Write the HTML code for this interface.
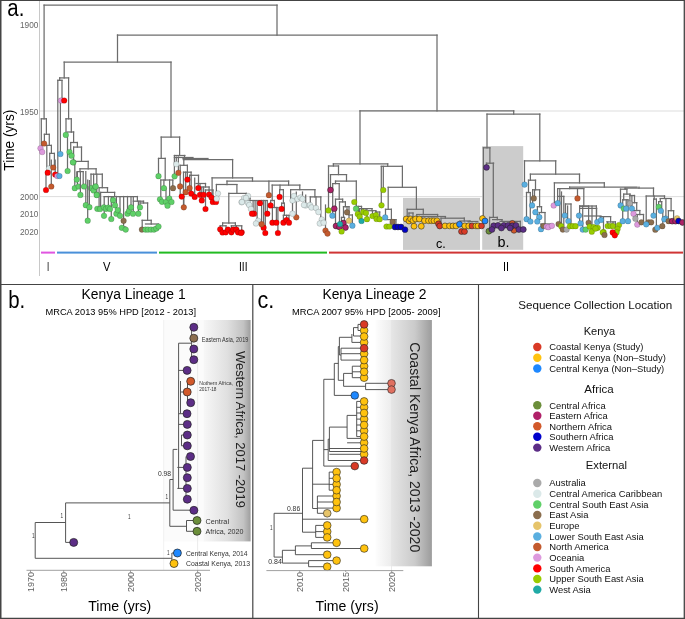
<!DOCTYPE html>
<html><head><meta charset="utf-8"><title>Figure</title>
<style>html,body{margin:0;padding:0;background:#fff;}svg{display:block;font-family:"Liberation Sans", sans-serif;will-change:transform;}</style>
</head><body>
<svg width="685" height="619" viewBox="0 0 685 619">
<rect width="685" height="619" fill="#fff"/>
<defs>
<linearGradient id="gb" x1="203.7" y1="0" x2="250.6" y2="0" gradientUnits="userSpaceOnUse"><stop offset="0" stop-color="#f7f7f7"/><stop offset="0.5" stop-color="#e0e0e0"/><stop offset="0.85" stop-color="#c2c2c2"/><stop offset="1" stop-color="#9e9e9e"/></linearGradient>
<linearGradient id="gc" x1="375.5" y1="0" x2="431.9" y2="0" gradientUnits="userSpaceOnUse"><stop offset="0" stop-color="#fdfdfd"/><stop offset="0.27" stop-color="#ededed"/><stop offset="0.28" stop-color="#e6e6e6"/><stop offset="0.7" stop-color="#cacaca"/><stop offset="1" stop-color="#9c9c9c"/></linearGradient>
</defs>
<line x1="39.5" y1="111" x2="684" y2="111" stroke="#dddddd" stroke-width="1"/>
<line x1="39.5" y1="196.6" x2="684" y2="196.6" stroke="#dddddd" stroke-width="1"/>
<line x1="39.5" y1="1" x2="39.5" y2="276" stroke="#c8c8c8" stroke-width="1"/>
<rect x="403" y="197.9" width="77" height="52" fill="#cccccc"/>
<rect x="482.2" y="146.1" width="41" height="103.7" fill="#cccccc"/>
<g stroke="#6c6c6c" stroke-width="1.25" fill="none" stroke-linecap="square">
<path d="M44.1 5.0V118.8"/>
<path d="M44.1 5.0H277.0"/>
<path d="M277.0 5.0V35.0"/>
<path d="M117.5 35.0H437.0"/>
<path d="M117.5 35.0V62.0"/>
<path d="M64.2 62.0H171.0"/>
<path d="M64.2 62.0V77.9"/>
<path d="M59.7 77.9H68.6"/>
<path d="M59.7 77.9V80.3"/>
<path d="M57.8 80.3H62.0"/>
<path d="M57.8 80.3V176.0"/>
<path d="M62.0 80.3V99.0"/>
<path d="M60.4 99.0H64.2"/>
<path d="M60.4 99.0V154.0"/>
<path d="M68.6 77.9V118.8"/>
<path d="M66.0 118.8H71.3"/>
<path d="M66.0 118.8V135.0"/>
<path d="M67.5 135.0V171.0"/>
<path d="M71.3 118.8V132.0"/>
<path d="M67.2 132.0H73.6"/>
<path d="M73.6 132.0V142.5"/>
<path d="M70.7 142.5H77.4"/>
<path d="M70.7 142.5V155.0"/>
<path d="M77.4 142.5V147.1"/>
<path d="M73.6 147.1H81.5"/>
<path d="M73.6 147.1V162.0"/>
<path d="M81.5 147.1V161.4"/>
<path d="M74.8 161.4H88.2"/>
<path d="M74.8 161.4V188.0"/>
<path d="M88.2 161.4V168.8"/>
<path d="M80.0 168.8H96.1"/>
<path d="M80.0 168.8V171.6"/>
<path d="M77.4 171.6H83.2"/>
<path d="M77.4 171.6V186.0"/>
<path d="M83.2 171.6V186.0"/>
<path d="M85.8 171.6V205.0"/>
<path d="M87.7 180.0V220.0"/>
<path d="M96.1 168.8V174.2"/>
<path d="M91.0 174.2H102.3"/>
<path d="M91.0 174.2V188.0"/>
<path d="M93.6 174.2V190.0"/>
<path d="M96.8 174.2V194.9"/>
<path d="M102.3 174.2V187.7"/>
<path d="M99.1 187.7H107.5"/>
<path d="M99.1 187.7V208.8"/>
<path d="M107.5 187.7V192.4"/>
<path d="M100.6 192.4H114.6"/>
<path d="M100.6 192.4V207.0"/>
<path d="M114.6 192.4V196.5"/>
<path d="M104.2 196.5H137.4"/>
<path d="M104.2 196.5V215.8"/>
<path d="M108.4 196.5V207.6"/>
<path d="M111.3 196.5V219.0"/>
<path d="M113.1 196.5V200.2"/>
<path d="M116.4 196.5V213.7"/>
<path d="M120.0 196.5V215.8"/>
<path d="M123.6 196.5V227.0"/>
<path d="M121.8 227.0H125.7"/>
<path d="M127.5 196.5V213.7"/>
<path d="M131.0 196.5V207.3"/>
<path d="M133.3 196.5V213.7"/>
<path d="M137.4 196.5V201.2"/>
<path d="M133.3 201.2H143.5"/>
<path d="M138.4 201.2V213.7"/>
<path d="M140.0 201.2V207.3"/>
<path d="M143.5 201.2V203.0"/>
<path d="M140.5 203.0H147.6"/>
<path d="M147.6 203.0V220.3"/>
<path d="M142.2 220.3H151.2"/>
<path d="M142.2 220.3V229.6"/>
<path d="M151.2 220.3V224.0"/>
<path d="M145.5 224.0H158.5"/>
<path d="M41.3 118.8H46.4"/>
<path d="M41.3 118.8V148.0"/>
<path d="M46.4 118.8V134.3"/>
<path d="M44.4 134.3H49.3"/>
<path d="M44.4 134.3V143.5"/>
<path d="M49.3 134.3V145.4"/>
<path d="M46.8 145.4H51.4"/>
<path d="M46.8 145.4V172.7"/>
<path d="M46.0 172.7V190.0"/>
<path d="M51.4 145.4V153.4"/>
<path d="M49.7 153.4H54.4"/>
<path d="M49.7 153.4V168.5"/>
<path d="M51.3 160.0V186.5"/>
<path d="M54.4 153.4V167.5"/>
<path d="M55.2 160.0V174.5"/>
<path d="M171.0 62.0V137.1"/>
<path d="M161.2 137.1H179.6"/>
<path d="M161.2 137.1V158.4"/>
<path d="M158.5 158.4H165.2"/>
<path d="M158.5 158.4V176.2"/>
<path d="M165.2 158.4V180.0"/>
<path d="M160.8 180.0H172.8"/>
<path d="M160.8 180.0V200.0"/>
<path d="M163.9 180.0V188.2"/>
<path d="M169.6 180.0V198.5"/>
<path d="M172.8 180.0V188.2"/>
<path d="M166.0 188.0V202.0"/>
<path d="M179.6 137.1V155.5"/>
<path d="M174.4 155.5H184.9"/>
<path d="M174.4 155.5V176.3"/>
<path d="M176.3 157.0V164.0"/>
<path d="M178.4 157.0V172.8"/>
<path d="M184.5 155.5V159.5"/>
<path d="M174.4 157.5H193.0"/>
<path d="M183.0 158.5H208.0"/>
<path d="M183.8 159.5V165.3"/>
<path d="M180.2 165.3H187.4"/>
<path d="M180.2 165.3V196.6"/>
<path d="M187.4 165.3V179.6"/>
<path d="M183.5 172.2H191.1"/>
<path d="M183.5 172.2V207.3"/>
<path d="M185.7 172.2V192.2"/>
<path d="M191.1 172.2V175.3"/>
<path d="M189.6 175.3H198.5"/>
<path d="M189.6 175.3V188.1"/>
<path d="M191.2 175.3V193.6"/>
<path d="M194.7 178.0V196.9"/>
<path d="M198.5 175.3V183.5"/>
<path d="M196.0 183.5H205.5"/>
<path d="M198.3 183.5V188.1"/>
<path d="M200.0 183.5V194.8"/>
<path d="M205.5 183.5V187.0"/>
<path d="M201.8 187.0H209.1"/>
<path d="M201.8 187.0V200.4"/>
<path d="M203.6 187.0V194.8"/>
<path d="M209.1 187.0V190.0"/>
<path d="M205.5 190.0H213.0"/>
<path d="M205.5 190.0V209.0"/>
<path d="M209.1 190.0V194.5"/>
<path d="M213.0 190.0V197.0"/>
<path d="M211.5 197.0H216.0"/>
<path d="M211.5 197.0V197.5"/>
<path d="M216.0 197.0V202.0"/>
<path d="M183.3 159.5H232.6"/>
<path d="M232.6 159.5V177.9"/>
<path d="M212.1 177.9H252.5"/>
<path d="M212.1 177.9V202.0"/>
<path d="M252.5 177.9V181.1"/>
<path d="M227.0 181.1H288.6"/>
<path d="M227.0 181.1V184.5"/>
<path d="M216.4 184.5H236.9"/>
<path d="M216.4 184.5V193.5"/>
<path d="M236.9 184.5V193.4"/>
<path d="M228.8 193.4H246.4"/>
<path d="M228.8 193.4V223.0"/>
<path d="M222.6 223.0H235.4"/>
<path d="M222.6 223.0V225.8"/>
<path d="M220.2 225.8H226.0"/>
<path d="M220.2 225.8V229.3"/>
<path d="M226.0 225.8V232.3"/>
<path d="M235.4 223.0V225.8"/>
<path d="M231.4 225.8H241.7"/>
<path d="M231.4 225.8V232.3"/>
<path d="M236.4 225.8V229.6"/>
<path d="M241.7 225.8V232.3"/>
<path d="M246.4 193.4V198.0"/>
<path d="M244.0 198.3H250.0"/>
<path d="M244.0 198.3V202.0"/>
<path d="M250.0 198.3V200.5"/>
<path d="M248.0 200.5H267.3"/>
<path d="M248.0 200.5V205.0"/>
<path d="M253.1 200.5V213.7"/>
<path d="M255.1 200.5V213.7"/>
<path d="M257.1 200.5V220.8"/>
<path d="M260.0 200.5V203.2"/>
<path d="M261.6 200.5V224.2"/>
<path d="M263.6 200.5V227.7"/>
<path d="M265.3 200.5V233.0"/>
<path d="M267.3 200.5V213.7"/>
<path d="M288.6 181.1V185.1"/>
<path d="M272.2 185.1H299.8"/>
<path d="M268.9 181.1V195.2"/>
<path d="M272.2 185.1V200.5"/>
<path d="M270.6 200.5H274.4"/>
<path d="M270.6 200.5V205.4"/>
<path d="M274.4 200.5V207.5"/>
<path d="M272.4 207.5H277.9"/>
<path d="M272.4 207.5V222.7"/>
<path d="M276.4 207.5V222.7"/>
<path d="M277.9 207.5V233.0"/>
<path d="M280.0 185.1V189.7"/>
<path d="M279.6 189.7H283.4"/>
<path d="M279.6 189.7V196.9"/>
<path d="M283.4 189.7V203.2"/>
<path d="M281.6 203.2H284.4"/>
<path d="M281.6 203.2V208.9"/>
<path d="M284.4 203.2V215.3"/>
<path d="M283.4 215.3H289.0"/>
<path d="M283.4 215.3V222.7"/>
<path d="M286.6 215.3V220.0"/>
<path d="M289.0 215.3V222.7"/>
<path d="M299.8 185.1V189.7"/>
<path d="M290.6 189.7H314.9"/>
<path d="M290.6 189.7V200.5"/>
<path d="M292.5 195.0V213.7"/>
<path d="M296.3 192.0V217.3"/>
<path d="M302.5 192.0V199.0"/>
<path d="M305.7 195.0V205.4"/>
<path d="M314.9 189.7V196.9"/>
<path d="M310.3 196.9H320.8"/>
<path d="M310.3 196.9V205.4"/>
<path d="M316.0 196.9V208.0"/>
<path d="M320.8 196.9V223.5"/>
<path d="M325.5 205.0V231.0"/>
<path d="M360.0 110.9V163.9"/>
<path d="M360.0 110.9H513.7"/>
<path d="M437.0 35.0V110.9"/>
<path d="M333.4 163.9H387.7"/>
<path d="M333.4 163.9V166.0"/>
<path d="M328.5 166.0H338.5"/>
<path d="M328.5 166.0V210.4"/>
<path d="M338.5 166.0V174.6"/>
<path d="M330.5 174.6H346.5"/>
<path d="M330.5 174.6V190.0"/>
<path d="M346.5 174.6V181.1"/>
<path d="M335.5 181.1H356.3"/>
<path d="M356.3 181.1V201.7"/>
<path d="M335.5 181.1V183.6"/>
<path d="M332.7 183.6H339.2"/>
<path d="M332.7 183.6V215.7"/>
<path d="M339.2 183.6V199.2"/>
<path d="M335.5 199.2H342.6"/>
<path d="M335.5 199.2V226.0"/>
<path d="M342.6 199.2V201.9"/>
<path d="M339.5 201.9H345.4"/>
<path d="M339.5 201.9V224.0"/>
<path d="M345.4 201.9V206.7"/>
<path d="M343.5 206.7H349.0"/>
<path d="M343.5 206.7V217.4"/>
<path d="M341.5 217.4H344.5"/>
<path d="M341.5 217.4V231.5"/>
<path d="M344.5 217.4V227.5"/>
<path d="M347.0 206.7V212.3"/>
<path d="M349.0 206.7V220.7"/>
<path d="M349.0 215.0H352.4"/>
<path d="M352.4 215.0V225.7"/>
<path d="M356.3 201.7V206.4"/>
<path d="M356.3 206.4H361.5"/>
<path d="M356.3 206.4V208.7"/>
<path d="M358.5 206.4V214.0"/>
<path d="M361.5 206.4V208.6"/>
<path d="M359.6 208.6H372.0"/>
<path d="M359.6 208.6V216.7"/>
<path d="M361.5 208.6V221.0"/>
<path d="M363.3 208.6V212.0"/>
<path d="M366.0 208.6V213.0"/>
<path d="M367.0 208.6V219.2"/>
<path d="M372.0 208.6V210.7"/>
<path d="M368.5 210.7H375.8"/>
<path d="M372.5 210.7V216.0"/>
<path d="M375.8 210.7V212.0"/>
<path d="M375.8 212.0H379.7"/>
<path d="M376.5 212.0V219.0"/>
<path d="M379.7 212.0V219.2"/>
<path d="M383.3 166.3V190.0"/>
<path d="M387.7 163.9V166.3"/>
<path d="M381.3 166.3H402.4"/>
<path d="M381.3 166.3V205.3"/>
<path d="M402.4 166.3V187.3"/>
<path d="M388.2 187.3H416.4"/>
<path d="M388.2 187.3V209.3"/>
<path d="M385.5 209.3H391.4"/>
<path d="M385.5 209.3V217.4"/>
<path d="M391.4 209.3V219.6"/>
<path d="M387.0 219.6H396.0"/>
<path d="M396.0 219.6V227.0"/>
<path d="M416.4 187.3V209.3"/>
<path d="M407.2 209.3H423.3"/>
<path d="M407.2 209.3V219.0"/>
<path d="M409.0 213.0H413.0"/>
<path d="M409.0 213.0V221.0"/>
<path d="M413.0 213.0V220.5"/>
<path d="M423.3 209.3V214.5"/>
<path d="M416.8 214.5H437.6"/>
<path d="M416.8 214.5V219.0"/>
<path d="M437.6 214.5V216.5"/>
<path d="M421.9 216.5H445.5"/>
<path d="M421.9 216.5V220.7"/>
<path d="M445.3 216.5V218.2"/>
<path d="M441.0 218.2H464.3"/>
<path d="M441.0 218.2V225.9"/>
<path d="M464.3 218.2V221.0"/>
<path d="M460.0 221.0H470.0"/>
<path d="M470.0 221.0V221.5"/>
<path d="M468.0 221.5H477.8"/>
<path d="M513.7 110.9V114.2"/>
<path d="M487.0 114.2H539.8"/>
<path d="M487.0 114.2V147.8"/>
<path d="M483.4 147.8H489.9"/>
<path d="M483.4 147.8V218.0"/>
<path d="M489.9 147.8V163.2"/>
<path d="M486.5 163.2H493.6"/>
<path d="M486.5 163.2V167.4"/>
<path d="M493.3 163.2V217.4"/>
<path d="M489.6 217.4H497.3"/>
<path d="M489.6 217.4V231.0"/>
<path d="M497.3 217.4V219.6"/>
<path d="M492.6 219.6H502.0"/>
<path d="M502.0 219.6V221.4"/>
<path d="M500.0 221.4H520.3"/>
<path d="M520.3 221.4V227.0"/>
<path d="M539.8 114.2V160.8"/>
<path d="M524.5 160.8H555.7"/>
<path d="M524.5 160.8V184.6"/>
<path d="M555.7 160.8V174.2"/>
<path d="M530.4 174.2H579.5"/>
<path d="M530.4 174.2V180.2"/>
<path d="M528.5 180.2H535.5"/>
<path d="M528.5 180.2V192.5"/>
<path d="M526.5 192.5H530.3"/>
<path d="M526.5 192.5V219.4"/>
<path d="M530.3 192.5V221.5"/>
<path d="M535.5 180.2V189.8"/>
<path d="M532.6 189.8H539.6"/>
<path d="M532.6 189.8V205.0"/>
<path d="M534.5 189.8V198.4"/>
<path d="M539.6 189.8V206.7"/>
<path d="M537.4 206.7H541.5"/>
<path d="M537.4 206.7V221.5"/>
<path d="M541.5 206.7V212.5"/>
<path d="M539.3 212.5H545.0"/>
<path d="M539.3 212.5V217.2"/>
<path d="M545.0 212.5V226.0"/>
<path d="M541.0 224.0H552.0"/>
<path d="M541.0 224.0V229.2"/>
<path d="M579.5 174.2V182.9"/>
<path d="M554.4 182.9H604.3"/>
<path d="M554.4 182.9V205.0"/>
<path d="M557.6 188.6V203.2"/>
<path d="M604.3 182.9V187.1"/>
<path d="M569.6 187.1H637.0"/>
<path d="M569.6 187.1V188.6"/>
<path d="M557.6 188.6H583.8"/>
<path d="M559.8 189.3V226.0"/>
<path d="M561.5 192.0V225.0"/>
<path d="M558.4 196.4H563.8"/>
<path d="M563.8 196.4V229.6"/>
<path d="M565.5 204.0H571.0"/>
<path d="M565.5 204.0V215.5"/>
<path d="M567.6 206.0V221.0"/>
<path d="M571.0 204.0V226.0"/>
<path d="M579.8 206.2H588.6"/>
<path d="M579.8 208.4H596.6"/>
<path d="M596.6 208.4V216.0"/>
<path d="M584.2 216.0H601.0"/>
<path d="M577.5 188.6V198.4"/>
<path d="M583.8 188.6V206.0"/>
<path d="M579.6 206.0H596.4"/>
<path d="M579.6 206.0V223.4"/>
<path d="M582.7 206.0V229.6"/>
<path d="M588.6 206.0V222.8"/>
<path d="M592.0 206.0V231.7"/>
<path d="M596.4 206.0V222.0"/>
<path d="M600.0 216.6H610.6"/>
<path d="M600.7 216.6V220.5"/>
<path d="M610.6 216.6V221.9"/>
<path d="M606.7 221.9H615.4"/>
<path d="M607.7 221.9V226.0"/>
<path d="M613.0 221.9V226.0"/>
<path d="M615.4 221.9V230.0"/>
<path d="M603.5 216.6V232.8"/>
<path d="M639.0 187.1V188.1"/>
<path d="M625.1 188.1H653.5"/>
<path d="M625.1 188.1V189.2"/>
<path d="M620.5 189.2H626.9"/>
<path d="M620.5 189.2V205.4"/>
<path d="M626.9 189.2V194.1"/>
<path d="M623.7 194.1H630.0"/>
<path d="M623.7 194.1V199.8"/>
<path d="M622.7 199.8H628.0"/>
<path d="M622.7 199.8V221.2"/>
<path d="M626.2 199.8V208.6"/>
<path d="M628.0 199.8V221.2"/>
<path d="M630.0 194.1V195.5"/>
<path d="M629.9 195.5H634.5"/>
<path d="M629.9 195.5V203.4"/>
<path d="M631.9 195.5V208.6"/>
<path d="M634.5 195.5V202.7"/>
<path d="M631.9 202.7H636.7"/>
<path d="M636.7 202.7V210.5"/>
<path d="M633.5 210.5H639.8"/>
<path d="M633.5 210.5V213.8"/>
<path d="M639.8 210.5V214.5"/>
<path d="M635.4 214.5H643.5"/>
<path d="M635.4 214.5V218.7"/>
<path d="M637.3 214.5V224.6"/>
<path d="M643.5 214.5V222.2"/>
<path d="M653.5 188.1V196.0"/>
<path d="M646.2 196.0H664.5"/>
<path d="M646.2 196.0V222.0"/>
<path d="M654.2 196.0V199.1"/>
<path d="M653.6 199.1H656.4"/>
<path d="M653.6 199.1V215.6"/>
<path d="M656.4 199.1V227.5"/>
<path d="M664.5 196.0V198.5"/>
<path d="M660.3 198.5H671.1"/>
<path d="M660.3 198.5V201.6"/>
<path d="M658.6 201.6H661.7"/>
<path d="M658.6 201.6V206.9"/>
<path d="M661.7 201.6V210.8"/>
<path d="M662.8 210.8V226.2"/>
<path d="M665.9 198.5V218.6"/>
<path d="M671.1 198.5V210.7"/>
<path d="M668.4 210.7H673.6"/>
<path d="M668.4 210.7V221.2"/>
<path d="M673.6 210.7V218.3"/>
</g>
<g>
<circle cx="61.0" cy="100.5" r="2.85" fill="#dd99dd" stroke="#000" stroke-opacity="0.3" stroke-width="0.5"/>
<circle cx="64.2" cy="100.5" r="2.85" fill="#ff0000" stroke="#000" stroke-opacity="0.3" stroke-width="0.5"/>
<circle cx="60.4" cy="154.0" r="2.85" fill="#5aafe0" stroke="#000" stroke-opacity="0.3" stroke-width="0.5"/>
<circle cx="65.8" cy="134.9" r="2.85" fill="#5fd068" stroke="#000" stroke-opacity="0.3" stroke-width="0.5"/>
<circle cx="67.6" cy="171.0" r="2.85" fill="#5fd068" stroke="#000" stroke-opacity="0.3" stroke-width="0.5"/>
<circle cx="69.5" cy="152.0" r="2.85" fill="#5fd068" stroke="#000" stroke-opacity="0.3" stroke-width="0.5"/>
<circle cx="71.5" cy="155.7" r="2.85" fill="#5fd068" stroke="#000" stroke-opacity="0.3" stroke-width="0.5"/>
<circle cx="73.4" cy="162.3" r="2.85" fill="#5fd068" stroke="#000" stroke-opacity="0.3" stroke-width="0.5"/>
<circle cx="40.5" cy="148.3" r="2.85" fill="#dd99dd" stroke="#000" stroke-opacity="0.3" stroke-width="0.5"/>
<circle cx="42.2" cy="152.0" r="2.85" fill="#dd99dd" stroke="#000" stroke-opacity="0.3" stroke-width="0.5"/>
<circle cx="44.1" cy="143.5" r="2.85" fill="#c35a2e" stroke="#000" stroke-opacity="0.3" stroke-width="0.5"/>
<circle cx="49.0" cy="168.5" r="2.85" fill="#dbe9e9" stroke="#000" stroke-opacity="0.3" stroke-width="0.5"/>
<circle cx="53.2" cy="167.5" r="2.85" fill="#c35a2e" stroke="#000" stroke-opacity="0.3" stroke-width="0.5"/>
<circle cx="47.7" cy="172.7" r="2.85" fill="#ff0000" stroke="#000" stroke-opacity="0.3" stroke-width="0.5"/>
<circle cx="55.2" cy="174.5" r="2.85" fill="#ff0000" stroke="#000" stroke-opacity="0.3" stroke-width="0.5"/>
<circle cx="57.3" cy="176.0" r="2.85" fill="#dd99dd" stroke="#000" stroke-opacity="0.3" stroke-width="0.5"/>
<circle cx="59.4" cy="176.0" r="2.85" fill="#5aafe0" stroke="#000" stroke-opacity="0.3" stroke-width="0.5"/>
<circle cx="51.3" cy="186.5" r="2.85" fill="#c35a2e" stroke="#000" stroke-opacity="0.3" stroke-width="0.5"/>
<circle cx="46.0" cy="190.0" r="2.85" fill="#ff0000" stroke="#000" stroke-opacity="0.3" stroke-width="0.5"/>
<circle cx="72.9" cy="162.3" r="2.85" fill="#5fd068" stroke="#000" stroke-opacity="0.3" stroke-width="0.5"/>
<path d="M76.8 171.6V179.6" stroke="#6c6c6c" stroke-width="1.25"/>
<circle cx="76.8" cy="179.6" r="2.85" fill="#5fd068" stroke="#000" stroke-opacity="0.3" stroke-width="0.5"/>
<circle cx="74.8" cy="188.2" r="2.85" fill="#5fd068" stroke="#000" stroke-opacity="0.3" stroke-width="0.5"/>
<circle cx="78.7" cy="186.5" r="2.85" fill="#5fd068" stroke="#000" stroke-opacity="0.3" stroke-width="0.5"/>
<circle cx="84.1" cy="186.5" r="2.85" fill="#5fd068" stroke="#000" stroke-opacity="0.3" stroke-width="0.5"/>
<path d="M80.4 171.6V194.9" stroke="#6c6c6c" stroke-width="1.25"/>
<circle cx="80.4" cy="194.9" r="2.85" fill="#5fd068" stroke="#000" stroke-opacity="0.3" stroke-width="0.5"/>
<circle cx="91.0" cy="188.2" r="2.85" fill="#5fd068" stroke="#000" stroke-opacity="0.3" stroke-width="0.5"/>
<circle cx="93.6" cy="190.4" r="2.85" fill="#5fd068" stroke="#000" stroke-opacity="0.3" stroke-width="0.5"/>
<circle cx="95.2" cy="186.5" r="2.85" fill="#5fd068" stroke="#000" stroke-opacity="0.3" stroke-width="0.5"/>
<circle cx="96.8" cy="194.9" r="2.85" fill="#5fd068" stroke="#000" stroke-opacity="0.3" stroke-width="0.5"/>
<circle cx="85.8" cy="205.2" r="2.85" fill="#5fd068" stroke="#000" stroke-opacity="0.3" stroke-width="0.5"/>
<path d="M89.4 180.0V207.2" stroke="#6c6c6c" stroke-width="1.25"/>
<circle cx="89.4" cy="207.2" r="2.85" fill="#5fd068" stroke="#000" stroke-opacity="0.3" stroke-width="0.5"/>
<circle cx="87.7" cy="220.7" r="2.85" fill="#5fd068" stroke="#000" stroke-opacity="0.3" stroke-width="0.5"/>
<circle cx="95.7" cy="186.6" r="2.85" fill="#5fd068" stroke="#000" stroke-opacity="0.3" stroke-width="0.5"/>
<circle cx="96.7" cy="195.0" r="2.85" fill="#5fd068" stroke="#000" stroke-opacity="0.3" stroke-width="0.5"/>
<circle cx="97.3" cy="208.8" r="2.85" fill="#5fd068" stroke="#000" stroke-opacity="0.3" stroke-width="0.5"/>
<circle cx="100.1" cy="209.0" r="2.85" fill="#5fd068" stroke="#000" stroke-opacity="0.3" stroke-width="0.5"/>
<circle cx="103.9" cy="207.3" r="2.85" fill="#5fd068" stroke="#000" stroke-opacity="0.3" stroke-width="0.5"/>
<circle cx="106.0" cy="208.8" r="2.85" fill="#5fd068" stroke="#000" stroke-opacity="0.3" stroke-width="0.5"/>
<circle cx="108.4" cy="207.6" r="2.85" fill="#5fd068" stroke="#000" stroke-opacity="0.3" stroke-width="0.5"/>
<circle cx="110.0" cy="209.0" r="2.85" fill="#5fd068" stroke="#000" stroke-opacity="0.3" stroke-width="0.5"/>
<circle cx="104.0" cy="215.8" r="2.85" fill="#5fd068" stroke="#000" stroke-opacity="0.3" stroke-width="0.5"/>
<circle cx="111.3" cy="219.0" r="2.85" fill="#5fd068" stroke="#000" stroke-opacity="0.3" stroke-width="0.5"/>
<circle cx="113.1" cy="200.2" r="2.85" fill="#5fd068" stroke="#000" stroke-opacity="0.3" stroke-width="0.5"/>
<circle cx="115.0" cy="205.3" r="2.85" fill="#5fd068" stroke="#000" stroke-opacity="0.3" stroke-width="0.5"/>
<circle cx="116.4" cy="213.7" r="2.85" fill="#5fd068" stroke="#000" stroke-opacity="0.3" stroke-width="0.5"/>
<circle cx="117.7" cy="210.0" r="2.85" fill="#5fd068" stroke="#000" stroke-opacity="0.3" stroke-width="0.5"/>
<circle cx="120.0" cy="215.8" r="2.85" fill="#5fd068" stroke="#000" stroke-opacity="0.3" stroke-width="0.5"/>
<circle cx="127.5" cy="213.7" r="2.85" fill="#5fd068" stroke="#000" stroke-opacity="0.3" stroke-width="0.5"/>
<circle cx="129.0" cy="211.0" r="2.85" fill="#5fd068" stroke="#000" stroke-opacity="0.3" stroke-width="0.5"/>
<circle cx="131.0" cy="207.3" r="2.85" fill="#5fd068" stroke="#000" stroke-opacity="0.3" stroke-width="0.5"/>
<circle cx="133.0" cy="213.7" r="2.85" fill="#5fd068" stroke="#000" stroke-opacity="0.3" stroke-width="0.5"/>
<circle cx="138.4" cy="213.7" r="2.85" fill="#5fd068" stroke="#000" stroke-opacity="0.3" stroke-width="0.5"/>
<circle cx="140.0" cy="207.3" r="2.85" fill="#5fd068" stroke="#000" stroke-opacity="0.3" stroke-width="0.5"/>
<circle cx="123.6" cy="220.8" r="2.85" fill="#8b6e4e" stroke="#000" stroke-opacity="0.3" stroke-width="0.5"/>
<circle cx="121.8" cy="227.8" r="2.85" fill="#5fd068" stroke="#000" stroke-opacity="0.3" stroke-width="0.5"/>
<circle cx="125.7" cy="229.6" r="2.85" fill="#5fd068" stroke="#000" stroke-opacity="0.3" stroke-width="0.5"/>
<circle cx="141.9" cy="229.6" r="2.85" fill="#8b6e4e" stroke="#000" stroke-opacity="0.3" stroke-width="0.5"/>
<circle cx="145.5" cy="229.6" r="2.85" fill="#5fd068" stroke="#000" stroke-opacity="0.3" stroke-width="0.5"/>
<circle cx="148.0" cy="229.6" r="2.85" fill="#5fd068" stroke="#000" stroke-opacity="0.3" stroke-width="0.5"/>
<circle cx="151.0" cy="229.6" r="2.85" fill="#5fd068" stroke="#000" stroke-opacity="0.3" stroke-width="0.5"/>
<circle cx="154.0" cy="229.6" r="2.85" fill="#5fd068" stroke="#000" stroke-opacity="0.3" stroke-width="0.5"/>
<circle cx="156.3" cy="228.5" r="2.85" fill="#5fd068" stroke="#000" stroke-opacity="0.3" stroke-width="0.5"/>
<circle cx="158.5" cy="226.5" r="2.85" fill="#5fd068" stroke="#000" stroke-opacity="0.3" stroke-width="0.5"/>
<circle cx="158.5" cy="176.2" r="2.85" fill="#5fd068" stroke="#000" stroke-opacity="0.3" stroke-width="0.5"/>
<circle cx="163.9" cy="188.2" r="2.85" fill="#5fd068" stroke="#000" stroke-opacity="0.3" stroke-width="0.5"/>
<circle cx="173.0" cy="188.2" r="2.85" fill="#8b6e4e" stroke="#000" stroke-opacity="0.3" stroke-width="0.5"/>
<circle cx="160.0" cy="199.3" r="2.85" fill="#5fd068" stroke="#000" stroke-opacity="0.3" stroke-width="0.5"/>
<circle cx="162.0" cy="201.8" r="2.85" fill="#5fd068" stroke="#000" stroke-opacity="0.3" stroke-width="0.5"/>
<circle cx="166.0" cy="202.0" r="2.85" fill="#5fd068" stroke="#000" stroke-opacity="0.3" stroke-width="0.5"/>
<circle cx="169.3" cy="198.5" r="2.85" fill="#5fd068" stroke="#000" stroke-opacity="0.3" stroke-width="0.5"/>
<circle cx="171.5" cy="202.0" r="2.85" fill="#5fd068" stroke="#000" stroke-opacity="0.3" stroke-width="0.5"/>
<circle cx="167.5" cy="205.7" r="2.85" fill="#5fd068" stroke="#000" stroke-opacity="0.3" stroke-width="0.5"/>
<circle cx="174.6" cy="176.3" r="2.85" fill="#5fd068" stroke="#000" stroke-opacity="0.3" stroke-width="0.5"/>
<circle cx="176.3" cy="164.1" r="2.85" fill="#dbe9e9" stroke="#000" stroke-opacity="0.3" stroke-width="0.5"/>
<circle cx="178.4" cy="172.8" r="2.85" fill="#c35a2e" stroke="#000" stroke-opacity="0.3" stroke-width="0.5"/>
<circle cx="180.1" cy="186.4" r="2.85" fill="#c35a2e" stroke="#000" stroke-opacity="0.3" stroke-width="0.5"/>
<circle cx="189.6" cy="188.1" r="2.85" fill="#c35a2e" stroke="#000" stroke-opacity="0.3" stroke-width="0.5"/>
<circle cx="185.7" cy="192.2" r="2.85" fill="#c35a2e" stroke="#000" stroke-opacity="0.3" stroke-width="0.5"/>
<path d="M183.8 196.0V207.3" stroke="#6c6c6c" stroke-width="1.25"/>
<circle cx="183.8" cy="207.3" r="2.85" fill="#c35a2e" stroke="#000" stroke-opacity="0.3" stroke-width="0.5"/>
<circle cx="187.4" cy="179.6" r="2.85" fill="#ff0000" stroke="#000" stroke-opacity="0.3" stroke-width="0.5"/>
<circle cx="181.7" cy="196.6" r="2.85" fill="#ff0000" stroke="#000" stroke-opacity="0.3" stroke-width="0.5"/>
<circle cx="191.2" cy="193.6" r="2.85" fill="#ff0000" stroke="#000" stroke-opacity="0.3" stroke-width="0.5"/>
<circle cx="194.7" cy="196.9" r="2.85" fill="#ff0000" stroke="#000" stroke-opacity="0.3" stroke-width="0.5"/>
<circle cx="198.3" cy="188.1" r="2.85" fill="#ff0000" stroke="#000" stroke-opacity="0.3" stroke-width="0.5"/>
<circle cx="200.0" cy="194.8" r="2.85" fill="#ff0000" stroke="#000" stroke-opacity="0.3" stroke-width="0.5"/>
<circle cx="203.6" cy="194.8" r="2.85" fill="#ff0000" stroke="#000" stroke-opacity="0.3" stroke-width="0.5"/>
<circle cx="201.8" cy="200.4" r="2.85" fill="#ff0000" stroke="#000" stroke-opacity="0.3" stroke-width="0.5"/>
<circle cx="209.1" cy="194.5" r="2.85" fill="#ff0000" stroke="#000" stroke-opacity="0.3" stroke-width="0.5"/>
<circle cx="211.5" cy="197.5" r="2.85" fill="#ff0000" stroke="#000" stroke-opacity="0.3" stroke-width="0.5"/>
<circle cx="212.8" cy="202.0" r="2.85" fill="#ff0000" stroke="#000" stroke-opacity="0.3" stroke-width="0.5"/>
<circle cx="216.0" cy="202.0" r="2.85" fill="#ff0000" stroke="#000" stroke-opacity="0.3" stroke-width="0.5"/>
<circle cx="205.5" cy="209.0" r="2.85" fill="#ff0000" stroke="#000" stroke-opacity="0.3" stroke-width="0.5"/>
<circle cx="217.9" cy="193.5" r="2.85" fill="#dbe9e9" stroke="#000" stroke-opacity="0.3" stroke-width="0.5"/>
<circle cx="216.7" cy="198.7" r="2.85" fill="#dbe9e9" stroke="#000" stroke-opacity="0.3" stroke-width="0.5"/>
<circle cx="220.2" cy="229.3" r="2.85" fill="#ff0000" stroke="#000" stroke-opacity="0.3" stroke-width="0.5"/>
<circle cx="222.5" cy="232.5" r="2.85" fill="#ff0000" stroke="#000" stroke-opacity="0.3" stroke-width="0.5"/>
<circle cx="225.8" cy="232.3" r="2.85" fill="#ff0000" stroke="#000" stroke-opacity="0.3" stroke-width="0.5"/>
<circle cx="228.0" cy="229.6" r="2.85" fill="#ff0000" stroke="#000" stroke-opacity="0.3" stroke-width="0.5"/>
<circle cx="231.4" cy="232.3" r="2.85" fill="#ff0000" stroke="#000" stroke-opacity="0.3" stroke-width="0.5"/>
<circle cx="233.2" cy="229.6" r="2.85" fill="#ff0000" stroke="#000" stroke-opacity="0.3" stroke-width="0.5"/>
<circle cx="236.4" cy="229.6" r="2.85" fill="#ff0000" stroke="#000" stroke-opacity="0.3" stroke-width="0.5"/>
<circle cx="238.0" cy="232.3" r="2.85" fill="#ff0000" stroke="#000" stroke-opacity="0.3" stroke-width="0.5"/>
<circle cx="241.7" cy="232.3" r="2.85" fill="#ff0000" stroke="#000" stroke-opacity="0.3" stroke-width="0.5"/>
<circle cx="241.6" cy="202.2" r="2.85" fill="#dbe9e9" stroke="#000" stroke-opacity="0.3" stroke-width="0.5"/>
<circle cx="244.2" cy="198.0" r="2.85" fill="#dbe9e9" stroke="#000" stroke-opacity="0.3" stroke-width="0.5"/>
<circle cx="248.0" cy="196.0" r="2.85" fill="#dbe9e9" stroke="#000" stroke-opacity="0.3" stroke-width="0.5"/>
<circle cx="248.0" cy="203.0" r="2.85" fill="#dbe9e9" stroke="#000" stroke-opacity="0.3" stroke-width="0.5"/>
<circle cx="242.0" cy="202.0" r="2.85" fill="#dbe9e9" stroke="#000" stroke-opacity="0.3" stroke-width="0.5"/>
<circle cx="246.0" cy="198.0" r="2.85" fill="#dbe9e9" stroke="#000" stroke-opacity="0.3" stroke-width="0.5"/>
<circle cx="249.2" cy="205.0" r="2.85" fill="#dbe9e9" stroke="#000" stroke-opacity="0.3" stroke-width="0.5"/>
<circle cx="251.0" cy="209.0" r="2.85" fill="#dbe9e9" stroke="#000" stroke-opacity="0.3" stroke-width="0.5"/>
<circle cx="258.2" cy="220.8" r="2.85" fill="#dbe9e9" stroke="#000" stroke-opacity="0.3" stroke-width="0.5"/>
<circle cx="256.0" cy="223.5" r="2.85" fill="#dbe9e9" stroke="#000" stroke-opacity="0.3" stroke-width="0.5"/>
<circle cx="268.9" cy="195.2" r="2.85" fill="#c35a2e" stroke="#000" stroke-opacity="0.3" stroke-width="0.5"/>
<circle cx="260.0" cy="203.2" r="2.85" fill="#ff0000" stroke="#000" stroke-opacity="0.3" stroke-width="0.5"/>
<circle cx="254.0" cy="213.7" r="2.85" fill="#ff0000" stroke="#000" stroke-opacity="0.3" stroke-width="0.5"/>
<circle cx="252.0" cy="213.7" r="2.85" fill="#ff0000" stroke="#000" stroke-opacity="0.3" stroke-width="0.5"/>
<circle cx="267.3" cy="213.7" r="2.85" fill="#ff0000" stroke="#000" stroke-opacity="0.3" stroke-width="0.5"/>
<circle cx="270.6" cy="205.4" r="2.85" fill="#ff0000" stroke="#000" stroke-opacity="0.3" stroke-width="0.5"/>
<circle cx="272.4" cy="222.7" r="2.85" fill="#ff0000" stroke="#000" stroke-opacity="0.3" stroke-width="0.5"/>
<circle cx="276.4" cy="222.7" r="2.85" fill="#ff0000" stroke="#000" stroke-opacity="0.3" stroke-width="0.5"/>
<circle cx="263.6" cy="227.7" r="2.85" fill="#ff0000" stroke="#000" stroke-opacity="0.3" stroke-width="0.5"/>
<circle cx="265.3" cy="233.0" r="2.85" fill="#ff0000" stroke="#000" stroke-opacity="0.3" stroke-width="0.5"/>
<circle cx="277.9" cy="233.0" r="2.85" fill="#ff0000" stroke="#000" stroke-opacity="0.3" stroke-width="0.5"/>
<circle cx="241.0" cy="233.0" r="2.85" fill="#ff0000" stroke="#000" stroke-opacity="0.3" stroke-width="0.5"/>
<circle cx="261.6" cy="224.2" r="2.85" fill="#c35a2e" stroke="#000" stroke-opacity="0.3" stroke-width="0.5"/>
<circle cx="279.6" cy="196.9" r="2.85" fill="#ff0000" stroke="#000" stroke-opacity="0.3" stroke-width="0.5"/>
<circle cx="281.6" cy="208.9" r="2.85" fill="#ff0000" stroke="#000" stroke-opacity="0.3" stroke-width="0.5"/>
<circle cx="283.4" cy="222.7" r="2.85" fill="#ff0000" stroke="#000" stroke-opacity="0.3" stroke-width="0.5"/>
<circle cx="286.6" cy="220.0" r="2.85" fill="#ff0000" stroke="#000" stroke-opacity="0.3" stroke-width="0.5"/>
<circle cx="289.0" cy="222.7" r="2.85" fill="#ff0000" stroke="#000" stroke-opacity="0.3" stroke-width="0.5"/>
<circle cx="296.3" cy="217.3" r="2.85" fill="#c35a2e" stroke="#000" stroke-opacity="0.3" stroke-width="0.5"/>
<circle cx="292.5" cy="200.5" r="2.85" fill="#dbe9e9" stroke="#000" stroke-opacity="0.3" stroke-width="0.5"/>
<circle cx="294.0" cy="196.0" r="2.85" fill="#dbe9e9" stroke="#000" stroke-opacity="0.3" stroke-width="0.5"/>
<circle cx="297.5" cy="199.0" r="2.85" fill="#dbe9e9" stroke="#000" stroke-opacity="0.3" stroke-width="0.5"/>
<circle cx="300.6" cy="197.5" r="2.85" fill="#dbe9e9" stroke="#000" stroke-opacity="0.3" stroke-width="0.5"/>
<circle cx="302.5" cy="199.0" r="2.85" fill="#dbe9e9" stroke="#000" stroke-opacity="0.3" stroke-width="0.5"/>
<circle cx="305.7" cy="205.4" r="2.85" fill="#dbe9e9" stroke="#000" stroke-opacity="0.3" stroke-width="0.5"/>
<circle cx="304.0" cy="205.0" r="2.85" fill="#dbe9e9" stroke="#000" stroke-opacity="0.3" stroke-width="0.5"/>
<circle cx="310.0" cy="205.0" r="2.85" fill="#dbe9e9" stroke="#000" stroke-opacity="0.3" stroke-width="0.5"/>
<circle cx="311.5" cy="207.5" r="2.85" fill="#dbe9e9" stroke="#000" stroke-opacity="0.3" stroke-width="0.5"/>
<circle cx="316.0" cy="208.0" r="2.85" fill="#dbe9e9" stroke="#000" stroke-opacity="0.3" stroke-width="0.5"/>
<circle cx="318.4" cy="212.0" r="2.85" fill="#dbe9e9" stroke="#000" stroke-opacity="0.3" stroke-width="0.5"/>
<circle cx="321.8" cy="219.5" r="2.85" fill="#dbe9e9" stroke="#000" stroke-opacity="0.3" stroke-width="0.5"/>
<circle cx="319.8" cy="223.5" r="2.85" fill="#dbe9e9" stroke="#000" stroke-opacity="0.3" stroke-width="0.5"/>
<circle cx="323.6" cy="222.7" r="2.85" fill="#dbe9e9" stroke="#000" stroke-opacity="0.3" stroke-width="0.5"/>
<circle cx="292.5" cy="213.7" r="2.85" fill="#dbe9e9" stroke="#000" stroke-opacity="0.3" stroke-width="0.5"/>
<circle cx="325.5" cy="230.5" r="2.85" fill="#c35a2e" stroke="#000" stroke-opacity="0.3" stroke-width="0.5"/>
<circle cx="327.5" cy="233.6" r="2.85" fill="#c35a2e" stroke="#000" stroke-opacity="0.3" stroke-width="0.5"/>
<circle cx="328.5" cy="210.4" r="2.85" fill="#99cc00" stroke="#000" stroke-opacity="0.3" stroke-width="0.5"/>
<circle cx="330.5" cy="190.0" r="2.9" fill="#b02068" stroke="#222" stroke-width="0.55"/>
<circle cx="334.3" cy="208.7" r="2.9" fill="#b02068" stroke="#222" stroke-width="0.55"/>
<circle cx="332.4" cy="215.7" r="2.85" fill="#5aafe0" stroke="#000" stroke-opacity="0.3" stroke-width="0.5"/>
<circle cx="336.0" cy="226.0" r="2.9" fill="#b02068" stroke="#222" stroke-width="0.55"/>
<circle cx="339.5" cy="227.0" r="2.9" fill="#b02068" stroke="#222" stroke-width="0.55"/>
<circle cx="343.5" cy="223.0" r="2.9" fill="#b02068" stroke="#222" stroke-width="0.55"/>
<circle cx="345.5" cy="227.5" r="2.9" fill="#b02068" stroke="#222" stroke-width="0.55"/>
<circle cx="340.0" cy="224.0" r="2.85" fill="#20aaa6" stroke="#000" stroke-opacity="0.3" stroke-width="0.5"/>
<circle cx="341.6" cy="231.5" r="2.85" fill="#99cc00" stroke="#000" stroke-opacity="0.3" stroke-width="0.5"/>
<circle cx="347.0" cy="212.3" r="2.85" fill="#8b6e4e" stroke="#000" stroke-opacity="0.3" stroke-width="0.5"/>
<circle cx="349.0" cy="220.7" r="2.85" fill="#e6c46a" stroke="#000" stroke-opacity="0.3" stroke-width="0.5"/>
<circle cx="352.4" cy="225.7" r="2.85" fill="#5aafe0" stroke="#000" stroke-opacity="0.3" stroke-width="0.5"/>
<circle cx="354.3" cy="202.0" r="2.85" fill="#99cc00" stroke="#000" stroke-opacity="0.3" stroke-width="0.5"/>
<circle cx="356.0" cy="208.7" r="2.85" fill="#5fd068" stroke="#000" stroke-opacity="0.3" stroke-width="0.5"/>
<circle cx="357.8" cy="214.0" r="2.85" fill="#99cc00" stroke="#000" stroke-opacity="0.3" stroke-width="0.5"/>
<circle cx="359.7" cy="216.7" r="2.85" fill="#99cc00" stroke="#000" stroke-opacity="0.3" stroke-width="0.5"/>
<circle cx="363.3" cy="212.0" r="2.85" fill="#99cc00" stroke="#000" stroke-opacity="0.3" stroke-width="0.5"/>
<circle cx="366.0" cy="213.0" r="2.85" fill="#99cc00" stroke="#000" stroke-opacity="0.3" stroke-width="0.5"/>
<circle cx="361.5" cy="221.0" r="2.85" fill="#20aaa6" stroke="#000" stroke-opacity="0.3" stroke-width="0.5"/>
<circle cx="367.0" cy="219.2" r="2.85" fill="#99cc00" stroke="#000" stroke-opacity="0.3" stroke-width="0.5"/>
<circle cx="372.5" cy="216.0" r="2.85" fill="#99cc00" stroke="#000" stroke-opacity="0.3" stroke-width="0.5"/>
<circle cx="376.0" cy="215.0" r="2.85" fill="#99cc00" stroke="#000" stroke-opacity="0.3" stroke-width="0.5"/>
<circle cx="376.5" cy="219.0" r="2.85" fill="#99cc00" stroke="#000" stroke-opacity="0.3" stroke-width="0.5"/>
<circle cx="379.7" cy="219.2" r="2.85" fill="#99cc00" stroke="#000" stroke-opacity="0.3" stroke-width="0.5"/>
<circle cx="381.5" cy="205.3" r="2.85" fill="#99cc00" stroke="#000" stroke-opacity="0.3" stroke-width="0.5"/>
<circle cx="383.3" cy="190.0" r="2.85" fill="#99cc00" stroke="#000" stroke-opacity="0.3" stroke-width="0.5"/>
<circle cx="385.2" cy="217.4" r="2.85" fill="#5aafe0" stroke="#000" stroke-opacity="0.3" stroke-width="0.5"/>
<circle cx="386.5" cy="226.5" r="2.85" fill="#99cc00" stroke="#000" stroke-opacity="0.3" stroke-width="0.5"/>
<circle cx="389.5" cy="226.5" r="2.85" fill="#99cc00" stroke="#000" stroke-opacity="0.3" stroke-width="0.5"/>
<circle cx="392.6" cy="221.9" r="2.85" fill="#8b6e4e" stroke="#000" stroke-opacity="0.3" stroke-width="0.5"/>
<circle cx="395.0" cy="227.0" r="2.9" fill="#0000cc" stroke="#222" stroke-width="0.55"/>
<circle cx="398.0" cy="227.0" r="2.9" fill="#0000cc" stroke="#222" stroke-width="0.55"/>
<circle cx="401.0" cy="227.0" r="2.9" fill="#0000cc" stroke="#222" stroke-width="0.55"/>
<circle cx="405.0" cy="229.7" r="2.9" fill="#0000cc" stroke="#222" stroke-width="0.55"/>
<circle cx="486.5" cy="167.4" r="2.9" fill="#5c2d86" stroke="#222" stroke-width="0.55"/>
<circle cx="524.6" cy="184.6" r="2.85" fill="#5aafe0" stroke="#000" stroke-opacity="0.3" stroke-width="0.5"/>
<circle cx="533.8" cy="198.4" r="2.85" fill="#8b6e4e" stroke="#000" stroke-opacity="0.3" stroke-width="0.5"/>
<circle cx="532.1" cy="205.4" r="2.85" fill="#5aafe0" stroke="#000" stroke-opacity="0.3" stroke-width="0.5"/>
<circle cx="535.4" cy="212.2" r="2.85" fill="#5aafe0" stroke="#000" stroke-opacity="0.3" stroke-width="0.5"/>
<circle cx="539.3" cy="217.2" r="2.85" fill="#5aafe0" stroke="#000" stroke-opacity="0.3" stroke-width="0.5"/>
<circle cx="537.3" cy="221.5" r="2.85" fill="#5aafe0" stroke="#000" stroke-opacity="0.3" stroke-width="0.5"/>
<circle cx="526.6" cy="219.2" r="2.85" fill="#5aafe0" stroke="#000" stroke-opacity="0.3" stroke-width="0.5"/>
<circle cx="530.4" cy="221.5" r="2.85" fill="#5aafe0" stroke="#000" stroke-opacity="0.3" stroke-width="0.5"/>
<circle cx="541.0" cy="229.2" r="2.85" fill="#5aafe0" stroke="#000" stroke-opacity="0.3" stroke-width="0.5"/>
<circle cx="543.5" cy="226.0" r="2.85" fill="#8b6e4e" stroke="#000" stroke-opacity="0.3" stroke-width="0.5"/>
<circle cx="546.6" cy="226.6" r="2.85" fill="#dd99dd" stroke="#000" stroke-opacity="0.3" stroke-width="0.5"/>
<circle cx="548.3" cy="227.2" r="2.85" fill="#dd99dd" stroke="#000" stroke-opacity="0.3" stroke-width="0.5"/>
<circle cx="551.9" cy="225.8" r="2.85" fill="#dd99dd" stroke="#000" stroke-opacity="0.3" stroke-width="0.5"/>
<circle cx="553.7" cy="205.5" r="2.85" fill="#dd99dd" stroke="#000" stroke-opacity="0.3" stroke-width="0.5"/>
<circle cx="557.7" cy="203.2" r="2.85" fill="#5aafe0" stroke="#000" stroke-opacity="0.3" stroke-width="0.5"/>
<circle cx="564.8" cy="215.5" r="2.85" fill="#5aafe0" stroke="#000" stroke-opacity="0.3" stroke-width="0.5"/>
<circle cx="568.3" cy="221.0" r="2.85" fill="#5aafe0" stroke="#000" stroke-opacity="0.3" stroke-width="0.5"/>
<circle cx="558.6" cy="224.0" r="2.85" fill="#8b6e4e" stroke="#000" stroke-opacity="0.3" stroke-width="0.5"/>
<circle cx="561.2" cy="226.2" r="2.85" fill="#99cc00" stroke="#000" stroke-opacity="0.3" stroke-width="0.5"/>
<circle cx="562.8" cy="229.6" r="2.85" fill="#8b6e4e" stroke="#000" stroke-opacity="0.3" stroke-width="0.5"/>
<circle cx="566.6" cy="229.6" r="2.85" fill="#aaaaaa" stroke="#000" stroke-opacity="0.3" stroke-width="0.5"/>
<circle cx="570.0" cy="226.2" r="2.85" fill="#99cc00" stroke="#000" stroke-opacity="0.3" stroke-width="0.5"/>
<circle cx="572.8" cy="226.2" r="2.85" fill="#99cc00" stroke="#000" stroke-opacity="0.3" stroke-width="0.5"/>
<circle cx="575.6" cy="226.2" r="2.85" fill="#99cc00" stroke="#000" stroke-opacity="0.3" stroke-width="0.5"/>
<circle cx="577.5" cy="198.4" r="2.85" fill="#c35a2e" stroke="#000" stroke-opacity="0.3" stroke-width="0.5"/>
<circle cx="579.0" cy="215.6" r="2.85" fill="#5aafe0" stroke="#000" stroke-opacity="0.3" stroke-width="0.5"/>
<circle cx="580.6" cy="223.4" r="2.85" fill="#5aafe0" stroke="#000" stroke-opacity="0.3" stroke-width="0.5"/>
<circle cx="582.7" cy="229.6" r="2.85" fill="#5aafe0" stroke="#000" stroke-opacity="0.3" stroke-width="0.5"/>
<circle cx="585.7" cy="229.6" r="2.85" fill="#5fd068" stroke="#000" stroke-opacity="0.3" stroke-width="0.5"/>
<circle cx="588.6" cy="222.8" r="2.85" fill="#8b6e4e" stroke="#000" stroke-opacity="0.3" stroke-width="0.5"/>
<circle cx="589.7" cy="226.6" r="2.85" fill="#99cc00" stroke="#000" stroke-opacity="0.3" stroke-width="0.5"/>
<circle cx="593.7" cy="227.2" r="2.85" fill="#99cc00" stroke="#000" stroke-opacity="0.3" stroke-width="0.5"/>
<circle cx="597.7" cy="227.8" r="2.85" fill="#99cc00" stroke="#000" stroke-opacity="0.3" stroke-width="0.5"/>
<circle cx="591.8" cy="231.7" r="2.85" fill="#99cc00" stroke="#000" stroke-opacity="0.3" stroke-width="0.5"/>
<circle cx="597.2" cy="222.0" r="2.85" fill="#5aafe0" stroke="#000" stroke-opacity="0.3" stroke-width="0.5"/>
<circle cx="601.0" cy="220.0" r="2.85" fill="#5aafe0" stroke="#000" stroke-opacity="0.3" stroke-width="0.5"/>
<circle cx="603.6" cy="232.0" r="2.85" fill="#99cc00" stroke="#000" stroke-opacity="0.3" stroke-width="0.5"/>
<circle cx="595.5" cy="228.6" r="2.85" fill="#99cc00" stroke="#000" stroke-opacity="0.3" stroke-width="0.5"/>
<circle cx="607.7" cy="226.0" r="2.85" fill="#99cc00" stroke="#000" stroke-opacity="0.3" stroke-width="0.5"/>
<circle cx="610.6" cy="226.0" r="2.85" fill="#99cc00" stroke="#000" stroke-opacity="0.3" stroke-width="0.5"/>
<circle cx="613.0" cy="226.0" r="2.85" fill="#99cc00" stroke="#000" stroke-opacity="0.3" stroke-width="0.5"/>
<circle cx="619.0" cy="225.0" r="2.85" fill="#99cc00" stroke="#000" stroke-opacity="0.3" stroke-width="0.5"/>
<circle cx="617.6" cy="229.0" r="2.85" fill="#99cc00" stroke="#000" stroke-opacity="0.3" stroke-width="0.5"/>
<circle cx="616.5" cy="232.4" r="2.85" fill="#99cc00" stroke="#000" stroke-opacity="0.3" stroke-width="0.5"/>
<circle cx="602.8" cy="232.4" r="2.85" fill="#99cc00" stroke="#000" stroke-opacity="0.3" stroke-width="0.5"/>
<circle cx="612.7" cy="232.4" r="2.85" fill="#ff0000" stroke="#000" stroke-opacity="0.3" stroke-width="0.5"/>
<circle cx="614.8" cy="235.3" r="2.85" fill="#ff0000" stroke="#000" stroke-opacity="0.3" stroke-width="0.5"/>
<circle cx="604.5" cy="235.0" r="2.85" fill="#8b6e4e" stroke="#000" stroke-opacity="0.3" stroke-width="0.5"/>
<circle cx="620.6" cy="205.4" r="2.85" fill="#5aafe0" stroke="#000" stroke-opacity="0.3" stroke-width="0.5"/>
<circle cx="623.8" cy="208.6" r="2.85" fill="#5fd068" stroke="#000" stroke-opacity="0.3" stroke-width="0.5"/>
<circle cx="629.9" cy="203.4" r="2.85" fill="#aaaaaa" stroke="#000" stroke-opacity="0.3" stroke-width="0.5"/>
<circle cx="626.2" cy="208.6" r="2.85" fill="#5aafe0" stroke="#000" stroke-opacity="0.3" stroke-width="0.5"/>
<circle cx="631.9" cy="208.6" r="2.85" fill="#5aafe0" stroke="#000" stroke-opacity="0.3" stroke-width="0.5"/>
<circle cx="633.5" cy="213.8" r="2.85" fill="#dd99dd" stroke="#000" stroke-opacity="0.3" stroke-width="0.5"/>
<circle cx="635.4" cy="218.7" r="2.85" fill="#aaaaaa" stroke="#000" stroke-opacity="0.3" stroke-width="0.5"/>
<circle cx="637.3" cy="224.6" r="2.85" fill="#dd99dd" stroke="#000" stroke-opacity="0.3" stroke-width="0.5"/>
<circle cx="622.7" cy="221.2" r="2.85" fill="#5aafe0" stroke="#000" stroke-opacity="0.3" stroke-width="0.5"/>
<circle cx="628.0" cy="221.2" r="2.85" fill="#5aafe0" stroke="#000" stroke-opacity="0.3" stroke-width="0.5"/>
<circle cx="641.4" cy="222.3" r="2.85" fill="#8b6e4e" stroke="#000" stroke-opacity="0.3" stroke-width="0.5"/>
<circle cx="648.5" cy="222.3" r="2.85" fill="#8b6e4e" stroke="#000" stroke-opacity="0.3" stroke-width="0.5"/>
<circle cx="651.2" cy="222.3" r="2.85" fill="#8b6e4e" stroke="#000" stroke-opacity="0.3" stroke-width="0.5"/>
<circle cx="646.2" cy="224.3" r="2.85" fill="#5aafe0" stroke="#000" stroke-opacity="0.3" stroke-width="0.5"/>
<circle cx="653.5" cy="215.6" r="2.85" fill="#5aafe0" stroke="#000" stroke-opacity="0.3" stroke-width="0.5"/>
<circle cx="655.3" cy="229.7" r="2.85" fill="#8b6e4e" stroke="#000" stroke-opacity="0.3" stroke-width="0.5"/>
<circle cx="657.3" cy="227.8" r="2.85" fill="#5aafe0" stroke="#000" stroke-opacity="0.3" stroke-width="0.5"/>
<circle cx="662.3" cy="226.2" r="2.85" fill="#8b6e4e" stroke="#000" stroke-opacity="0.3" stroke-width="0.5"/>
<circle cx="658.8" cy="206.9" r="2.85" fill="#5fd068" stroke="#000" stroke-opacity="0.3" stroke-width="0.5"/>
<circle cx="660.8" cy="210.8" r="2.85" fill="#5aafe0" stroke="#000" stroke-opacity="0.3" stroke-width="0.5"/>
<circle cx="665.6" cy="218.6" r="2.85" fill="#5aafe0" stroke="#000" stroke-opacity="0.3" stroke-width="0.5"/>
<circle cx="664.3" cy="219.3" r="2.85" fill="#5aafe0" stroke="#000" stroke-opacity="0.3" stroke-width="0.5"/>
<circle cx="668.6" cy="221.2" r="2.85" fill="#8b6e4e" stroke="#000" stroke-opacity="0.3" stroke-width="0.5"/>
<circle cx="672.2" cy="221.2" r="2.9" fill="#b02068" stroke="#222" stroke-width="0.55"/>
<circle cx="675.5" cy="221.2" r="2.9" fill="#b02068" stroke="#222" stroke-width="0.55"/>
<circle cx="677.1" cy="218.3" r="2.85" fill="#e6c46a" stroke="#000" stroke-opacity="0.3" stroke-width="0.5"/>
<circle cx="678.6" cy="221.0" r="2.9" fill="#0000cc" stroke="#222" stroke-width="0.55"/>
<circle cx="682.5" cy="222.5" r="2.9" fill="#b02068" stroke="#222" stroke-width="0.55"/>
</g>
<rect x="41" y="251.6" width="14" height="2" fill="#e055e0"/>
<rect x="57" y="251.6" width="100" height="2" fill="#4a90d9"/>
<rect x="159" y="251.6" width="168" height="2" fill="#22bb22"/>
<rect x="329" y="251.6" width="354" height="2" fill="#d03535"/>
<text x="47" y="271" font-size="12" fill="#000" textLength="2.2" lengthAdjust="spacingAndGlyphs" >I</text>
<text x="103" y="271" font-size="12" fill="#000" textLength="7.5" lengthAdjust="spacingAndGlyphs" >V</text>
<text x="239" y="271" font-size="12" fill="#000" textLength="8.5" lengthAdjust="spacingAndGlyphs" >III</text>
<text x="503" y="271" font-size="12" fill="#000" textLength="6" lengthAdjust="spacingAndGlyphs" >II</text>
<text x="436" y="247.6" font-size="13.7" fill="#000" textLength="9.8" lengthAdjust="spacingAndGlyphs" >c.</text>
<text x="497.6" y="246.7" font-size="14.5" fill="#000" textLength="12" lengthAdjust="spacingAndGlyphs" >b.</text>
<text x="7.3" y="15.8" font-size="23.5" fill="#000" textLength="17" lengthAdjust="spacingAndGlyphs" >a.</text>
<text x="38.4" y="28.3" font-size="8.2" fill="#666" textLength="18.4" lengthAdjust="spacingAndGlyphs" text-anchor="end" >1900</text>
<text x="38.4" y="114.5" font-size="8.2" fill="#666" textLength="18.4" lengthAdjust="spacingAndGlyphs" text-anchor="end" >1950</text>
<text x="38.4" y="200.1" font-size="8.2" fill="#666" textLength="18.4" lengthAdjust="spacingAndGlyphs" text-anchor="end" >2000</text>
<text x="38.4" y="217.3" font-size="8.2" fill="#666" textLength="18.4" lengthAdjust="spacingAndGlyphs" text-anchor="end" >2010</text>
<text x="38.4" y="234.5" font-size="8.2" fill="#666" textLength="18.4" lengthAdjust="spacingAndGlyphs" text-anchor="end" >2020</text>
<text transform="translate(14,170.7) rotate(-90)" x="0" y="0" font-size="14" fill="#000" textLength="61" lengthAdjust="spacingAndGlyphs" >Time (yrs)</text>
<circle cx="406.2" cy="219" r="2.95" fill="#ffc20e" stroke="#222" stroke-width="0.55"/>
<circle cx="409" cy="221" r="2.95" fill="#ffc20e" stroke="#222" stroke-width="0.55"/>
<circle cx="410.6" cy="218.9" r="2.95" fill="#ffc20e" stroke="#222" stroke-width="0.55"/>
<circle cx="413" cy="220.5" r="2.95" fill="#ffc20e" stroke="#222" stroke-width="0.55"/>
<circle cx="415.5" cy="219" r="2.95" fill="#ffc20e" stroke="#222" stroke-width="0.55"/>
<circle cx="419.3" cy="219" r="2.95" fill="#ffc20e" stroke="#222" stroke-width="0.55"/>
<circle cx="424.5" cy="220.7" r="2.95" fill="#ffc20e" stroke="#222" stroke-width="0.55"/>
<circle cx="428.5" cy="220.7" r="2.95" fill="#ffc20e" stroke="#222" stroke-width="0.55"/>
<circle cx="431.5" cy="220.7" r="2.95" fill="#ffc20e" stroke="#222" stroke-width="0.55"/>
<circle cx="434" cy="220.7" r="2.95" fill="#ffc20e" stroke="#222" stroke-width="0.55"/>
<circle cx="437" cy="220.7" r="2.95" fill="#ffc20e" stroke="#222" stroke-width="0.55"/>
<circle cx="414" cy="226.2" r="2.95" fill="#ffc20e" stroke="#222" stroke-width="0.55"/>
<circle cx="421.3" cy="226.2" r="2.95" fill="#ffc20e" stroke="#222" stroke-width="0.55"/>
<circle cx="438.5" cy="223.8" r="2.95" fill="#d93a26" stroke="#222" stroke-width="0.55"/>
<circle cx="439.7" cy="226" r="2.95" fill="#d93a26" stroke="#222" stroke-width="0.55"/>
<circle cx="445" cy="225.9" r="2.95" fill="#ffc20e" stroke="#222" stroke-width="0.55"/>
<circle cx="449.5" cy="225.9" r="2.95" fill="#ffc20e" stroke="#222" stroke-width="0.55"/>
<circle cx="453" cy="225.9" r="2.95" fill="#ffc20e" stroke="#222" stroke-width="0.55"/>
<circle cx="456" cy="225.9" r="2.95" fill="#ffc20e" stroke="#222" stroke-width="0.55"/>
<circle cx="461.5" cy="231.5" r="2.95" fill="#d93a26" stroke="#222" stroke-width="0.55"/>
<circle cx="464.5" cy="231.5" r="2.95" fill="#d93a26" stroke="#222" stroke-width="0.55"/>
<circle cx="459.5" cy="224.2" r="2.95" fill="#1e88ff" stroke="#222" stroke-width="0.55"/>
<circle cx="464.8" cy="225.9" r="2.95" fill="#ffc20e" stroke="#222" stroke-width="0.55"/>
<circle cx="468.7" cy="225.9" r="2.95" fill="#ffc20e" stroke="#222" stroke-width="0.55"/>
<circle cx="472" cy="225.9" r="2.95" fill="#d93a26" stroke="#222" stroke-width="0.55"/>
<circle cx="476" cy="225.9" r="2.95" fill="#ffc20e" stroke="#222" stroke-width="0.55"/>
<circle cx="478" cy="225.9" r="2.95" fill="#ffc20e" stroke="#222" stroke-width="0.55"/>
<circle cx="481.5" cy="225.9" r="2.95" fill="#d93a26" stroke="#222" stroke-width="0.55"/>
<circle cx="482.5" cy="218.5" r="2.95" fill="#ffc20e" stroke="#222" stroke-width="0.55"/>
<circle cx="485" cy="221" r="2.95" fill="#1e88ff" stroke="#222" stroke-width="0.55"/>
<circle cx="512.3" cy="223.4" r="2.95" fill="#d2592a" stroke="#222" stroke-width="0.55"/>
<circle cx="514" cy="230.3" r="2.95" fill="#d2592a" stroke="#222" stroke-width="0.55"/>
<circle cx="488.9" cy="231.2" r="2.95" fill="#6b8e3a" stroke="#222" stroke-width="0.55"/>
<circle cx="493.7" cy="225.8" r="2.95" fill="#5c2d86" stroke="#222" stroke-width="0.55"/>
<circle cx="498" cy="225.4" r="2.95" fill="#5c2d86" stroke="#222" stroke-width="0.55"/>
<circle cx="503.9" cy="225.4" r="2.95" fill="#5c2d86" stroke="#222" stroke-width="0.55"/>
<circle cx="508" cy="225.4" r="2.95" fill="#5c2d86" stroke="#222" stroke-width="0.55"/>
<circle cx="512.3" cy="225.8" r="2.95" fill="#5c2d86" stroke="#222" stroke-width="0.55"/>
<circle cx="516" cy="225.4" r="2.95" fill="#5c2d86" stroke="#222" stroke-width="0.55"/>
<circle cx="491.9" cy="229.5" r="2.95" fill="#5c2d86" stroke="#222" stroke-width="0.55"/>
<circle cx="501.4" cy="228" r="2.95" fill="#5c2d86" stroke="#222" stroke-width="0.55"/>
<circle cx="510.1" cy="228" r="2.95" fill="#5c2d86" stroke="#222" stroke-width="0.55"/>
<circle cx="518.9" cy="229.5" r="2.95" fill="#5c2d86" stroke="#222" stroke-width="0.55"/>
<circle cx="523.3" cy="229.5" r="2.95" fill="#5c2d86" stroke="#222" stroke-width="0.55"/>
<rect x="163.6" y="320" width="87" height="221.4" fill="#fbfbfb"/>
<rect x="203.7" y="320" width="46.9" height="221.4" fill="url(#gb)"/>
<line x1="163.7" y1="320" x2="163.7" y2="570" stroke="#eeeeee" stroke-width="0.8"/>
<line x1="197.6" y1="320" x2="197.6" y2="570" stroke="#e6e6e6" stroke-width="0.8"/>
<text x="8.2" y="307.8" font-size="23.5" fill="#000" textLength="17" lengthAdjust="spacingAndGlyphs" >b.</text>
<text x="81.6" y="299.2" font-size="14" fill="#000" textLength="104" lengthAdjust="spacingAndGlyphs" >Kenya Lineage 1</text>
<text x="45.5" y="315.2" font-size="9" fill="#000" textLength="150.5" lengthAdjust="spacingAndGlyphs" >MRCA 2013 95% HPD [2012 - 2013]</text>
<g stroke="#555" stroke-width="1" fill="none">
<path d="M35.2 522.5V558.3"/>
<path d="M35.2 522.5H65.6"/>
<path d="M65.6 502.9V542.4"/>
<path d="M65.6 542.4H73.7"/>
<path d="M65.6 502.9H169.8"/>
<path d="M169.8 479.5V526.3"/>
<path d="M169.8 479.5H173.1"/>
<path d="M173.1 449.4V510.2"/>
<path d="M173.1 510.2H193.9"/>
<path d="M173.1 449.4H177.3"/>
<path d="M178.6 343.2V489.0"/>
<path d="M178.6 343.2H191.6"/>
<path d="M191.6 327.3V359.7"/>
<path d="M178.6 370.4H187.1"/>
<path d="M180.5 381.0V413.7"/>
<path d="M180.5 392.0H187.2"/>
<path d="M178.6 413.7H187.0"/>
<path d="M187.5 381.3V402.7"/>
<path d="M178.6 424.4H187.3"/>
<path d="M181.5 435.0V445.8"/>
<path d="M181.5 435.0H187.3"/>
<path d="M181.5 445.8H187.3"/>
<path d="M177.3 467.4H187.3"/>
<path d="M186.0 456.5V499.2"/>
<path d="M177.3 488.4H186.0"/>
<path d="M169.8 526.3H186.5"/>
<path d="M186.5 520.5V531.3"/>
<path d="M186.5 520.5H197.0"/>
<path d="M186.5 531.3H197.0"/>
<path d="M35.2 558.3H171.9"/>
<path d="M171.9 553.0V563.5"/>
<path d="M171.9 553.0H177.4"/>
<path d="M171.9 563.5H174.0"/>
</g>
<circle cx="193.8" cy="327.3" r="4" fill="#5c2d86" stroke="#222" stroke-width="0.7"/>
<circle cx="193.8" cy="338.2" r="4" fill="#8b6e4e" stroke="#222" stroke-width="0.7"/>
<circle cx="193.8" cy="349" r="4" fill="#5c2d86" stroke="#222" stroke-width="0.7"/>
<circle cx="193.8" cy="359.7" r="4" fill="#5c2d86" stroke="#222" stroke-width="0.7"/>
<circle cx="187.1" cy="370.4" r="4" fill="#5c2d86" stroke="#222" stroke-width="0.7"/>
<circle cx="190.7" cy="381.3" r="4" fill="#d2592a" stroke="#222" stroke-width="0.7"/>
<circle cx="187.2" cy="392" r="4" fill="#d2592a" stroke="#222" stroke-width="0.7"/>
<circle cx="190.7" cy="402.7" r="4" fill="#5c2d86" stroke="#222" stroke-width="0.7"/>
<circle cx="187" cy="413.7" r="4" fill="#5c2d86" stroke="#222" stroke-width="0.7"/>
<circle cx="187.3" cy="424.4" r="4" fill="#5c2d86" stroke="#222" stroke-width="0.7"/>
<circle cx="187.3" cy="435" r="4" fill="#5c2d86" stroke="#222" stroke-width="0.7"/>
<circle cx="187.3" cy="445.8" r="4" fill="#5c2d86" stroke="#222" stroke-width="0.7"/>
<circle cx="190.5" cy="456.5" r="4" fill="#5c2d86" stroke="#222" stroke-width="0.7"/>
<circle cx="187.3" cy="467.4" r="4" fill="#5c2d86" stroke="#222" stroke-width="0.7"/>
<circle cx="187.3" cy="477.7" r="4" fill="#5c2d86" stroke="#222" stroke-width="0.7"/>
<circle cx="187.3" cy="488.4" r="4" fill="#5c2d86" stroke="#222" stroke-width="0.7"/>
<circle cx="187.3" cy="499.2" r="4" fill="#5c2d86" stroke="#222" stroke-width="0.7"/>
<circle cx="193.9" cy="510.3" r="4" fill="#5c2d86" stroke="#222" stroke-width="0.7"/>
<circle cx="197" cy="520.5" r="4" fill="#6b8e3a" stroke="#222" stroke-width="0.7"/>
<circle cx="197" cy="531.3" r="4" fill="#6b8e3a" stroke="#222" stroke-width="0.7"/>
<circle cx="177.4" cy="553" r="4" fill="#1e88ff" stroke="#222" stroke-width="0.7"/>
<circle cx="174" cy="563.5" r="4" fill="#ffc20e" stroke="#222" stroke-width="0.7"/>
<circle cx="73.7" cy="542.4" r="4" fill="#5c2d86" stroke="#222" stroke-width="0.7"/>
<text x="201.8" y="341.9" font-size="6.8" fill="#333" textLength="46.5" lengthAdjust="spacingAndGlyphs" >Eastern Asia, 2019</text>
<text x="199.2" y="384.8" font-size="5.6" fill="#333" textLength="33.8" lengthAdjust="spacingAndGlyphs" >Nothern Africa,</text>
<text x="199.2" y="391" font-size="5.6" fill="#333" textLength="17.3" lengthAdjust="spacingAndGlyphs" >2017-18</text>
<text transform="translate(235.5,350.9) rotate(90)" x="0" y="0" font-size="13" fill="#222" textLength="157" lengthAdjust="spacingAndGlyphs" >Western Africa, 2017 -2019</text>
<text x="205.5" y="524.2" font-size="7.6" fill="#333" textLength="23.5" lengthAdjust="spacingAndGlyphs" >Central</text>
<text x="205.5" y="534" font-size="7.6" fill="#333" textLength="38" lengthAdjust="spacingAndGlyphs" >Africa, 2020</text>
<text x="186" y="555.7" font-size="7.6" fill="#333" textLength="61.5" lengthAdjust="spacingAndGlyphs" >Central Kenya, 2014</text>
<text x="186" y="566.2" font-size="7.6" fill="#333" textLength="64" lengthAdjust="spacingAndGlyphs" >Coastal Kenya, 2013</text>
<text x="32" y="537.5" font-size="6.6" fill="#333" textLength="2.6" lengthAdjust="spacingAndGlyphs" >1</text>
<text x="60.5" y="518" font-size="6.6" fill="#333" textLength="2.6" lengthAdjust="spacingAndGlyphs" >1</text>
<text x="128" y="519.2" font-size="6.6" fill="#333" textLength="2.6" lengthAdjust="spacingAndGlyphs" >1</text>
<text x="165.6" y="498.8" font-size="6.6" fill="#333" textLength="2.6" lengthAdjust="spacingAndGlyphs" >1</text>
<text x="166.9" y="555.3" font-size="6.6" fill="#333" textLength="2.6" lengthAdjust="spacingAndGlyphs" >1</text>
<text x="157.9" y="476.3" font-size="6.6" fill="#333" textLength="13.2" lengthAdjust="spacingAndGlyphs" >0.98</text>
<line x1="26.5" y1="570.3" x2="210" y2="570.3" stroke="#a0a0a0" stroke-width="1"/>
<line x1="30.5" y1="570.3" x2="30.5" y2="572" stroke="#888" stroke-width="0.8"/>
<text transform="translate(33.6,592) rotate(-90)" x="0" y="0" font-size="9" fill="#606060" textLength="20" lengthAdjust="spacingAndGlyphs" >1970</text>
<line x1="63.7" y1="570.3" x2="63.7" y2="572" stroke="#888" stroke-width="0.8"/>
<text transform="translate(66.8,592) rotate(-90)" x="0" y="0" font-size="9" fill="#606060" textLength="20" lengthAdjust="spacingAndGlyphs" >1980</text>
<line x1="130.5" y1="570.3" x2="130.5" y2="572" stroke="#888" stroke-width="0.8"/>
<text transform="translate(133.6,592) rotate(-90)" x="0" y="0" font-size="9" fill="#606060" textLength="20" lengthAdjust="spacingAndGlyphs" >2000</text>
<line x1="197.6" y1="570.3" x2="197.6" y2="572" stroke="#888" stroke-width="0.8"/>
<text transform="translate(200.7,592) rotate(-90)" x="0" y="0" font-size="9" fill="#606060" textLength="20" lengthAdjust="spacingAndGlyphs" >2020</text>
<text x="88.2" y="611.2" font-size="15" fill="#000" textLength="63" lengthAdjust="spacingAndGlyphs" >Time (yrs)</text>
<rect x="375.5" y="320" width="56.4" height="246.3" fill="url(#gc)"/>
<line x1="391.5" y1="320" x2="391.5" y2="570" stroke="#e6e6e6" stroke-width="0.8"/>
<text x="257.4" y="308" font-size="23.5" fill="#000" textLength="16.8" lengthAdjust="spacingAndGlyphs" >c.</text>
<text x="322.4" y="299.3" font-size="14" fill="#000" textLength="104" lengthAdjust="spacingAndGlyphs" >Kenya Lineage 2</text>
<text x="292" y="315.3" font-size="9" fill="#000" textLength="148.5" lengthAdjust="spacingAndGlyphs" >MRCA 2007 95% HPD [2005- 2009]</text>
<g stroke="#444" stroke-width="0.9" fill="none">
<path d="M274.1 513.3V557.1"/>
<path d="M274.1 513.3H302.5"/>
<path d="M274.1 557.1H282.4"/>
<path d="M302.5 468.2V532.2"/>
<path d="M302.5 468.2H312.6"/>
<path d="M302.5 519.2H364.2"/>
<path d="M302.5 532.2H315.7"/>
<path d="M315.7 525.4V537.4"/>
<path d="M315.7 525.4H327.2"/>
<path d="M315.7 531.6H327.2"/>
<path d="M315.7 537.4H327.2"/>
<path d="M312.6 440.4V508.5"/>
<path d="M312.6 440.4H323.8"/>
<path d="M312.6 484.2H329.2"/>
<path d="M329.2 472.1V490.2"/>
<path d="M329.2 472.1H336.6"/>
<path d="M329.2 478.3H336.6"/>
<path d="M329.2 484.4H336.6"/>
<path d="M329.2 490.2H336.6"/>
<path d="M312.6 508.5H317.4"/>
<path d="M317.4 496.0V513.3"/>
<path d="M317.4 496.0H336.6"/>
<path d="M317.4 502.0H336.6"/>
<path d="M317.4 508.1H336.6"/>
<path d="M317.4 513.3H327.2"/>
<path d="M323.8 379.3V466.1"/>
<path d="M323.8 466.1H354.8"/>
<path d="M323.8 379.3H334.3"/>
<path d="M334.3 363.4V395.4"/>
<path d="M334.3 395.4H354.8"/>
<path d="M334.3 363.4H338.3"/>
<path d="M338.3 346.6V380.3"/>
<path d="M338.3 346.6H339.4"/>
<path d="M339.4 337.3V355.0"/>
<path d="M339.4 337.3H351.9"/>
<path d="M351.9 334.0V342.4"/>
<path d="M351.9 342.4H364.0"/>
<path d="M353.5 327.6V336.0"/>
<path d="M353.5 327.6H358.0"/>
<path d="M358.0 324.4V330.5"/>
<path d="M358.0 324.4H364.0"/>
<path d="M358.0 330.5H364.0"/>
<path d="M353.5 336.0H364.0"/>
<path d="M339.4 355.0H341.0"/>
<path d="M341.0 348.2V360.1"/>
<path d="M341.0 348.2H364.0"/>
<path d="M341.0 353.7H364.0"/>
<path d="M341.0 360.1H364.0"/>
<path d="M338.3 380.3H343.6"/>
<path d="M343.6 373.4V386.3"/>
<path d="M343.6 386.3H365.6"/>
<path d="M365.6 383.3V389.6"/>
<path d="M365.6 383.3H391.5"/>
<path d="M365.6 389.6H391.5"/>
<path d="M343.6 373.4H352.3"/>
<path d="M352.3 366.2V377.7"/>
<path d="M352.3 366.2H364.0"/>
<path d="M352.3 371.8H364.0"/>
<path d="M352.3 377.7H364.0"/>
<path d="M323.8 449.6H328.2"/>
<path d="M328.2 439.2V460.5"/>
<path d="M328.2 460.5H364.0"/>
<path d="M328.2 439.2H329.4"/>
<path d="M329.4 427.1V451.5"/>
<path d="M329.4 451.5H364.0"/>
<path d="M329.4 454.3H364.0"/>
<path d="M329.4 427.1H347.1"/>
<path d="M347.1 415.4V438.4"/>
<path d="M347.1 438.4H364.0"/>
<path d="M347.1 442.8H364.0"/>
<path d="M329.4 448.5H364.0"/>
<path d="M347.1 415.4H356.7"/>
<path d="M356.7 401.4V436.6"/>
<path d="M356.7 401.4H364.0"/>
<path d="M356.7 407.3H364.0"/>
<path d="M356.7 413.0H364.0"/>
<path d="M356.7 419.1H364.0"/>
<path d="M356.7 425.0H364.0"/>
<path d="M356.7 430.8H364.0"/>
<path d="M356.7 436.6H364.0"/>
<path d="M282.4 550.3V563.1"/>
<path d="M282.4 550.3H295.4"/>
<path d="M295.4 545.9V554.7"/>
<path d="M295.4 545.9H311.4"/>
<path d="M311.4 542.8V548.5"/>
<path d="M311.4 542.8H336.6"/>
<path d="M311.4 548.5H364.2"/>
<path d="M295.4 554.7H327.2"/>
<path d="M282.4 563.1H308.6"/>
<path d="M308.6 560.6V566.7"/>
<path d="M308.6 560.6H336.6"/>
<path d="M308.6 566.7H327.2"/>
</g>
<circle cx="364.1" cy="330.5" r="3.85" fill="#ffc20e" stroke="#222" stroke-width="0.6"/>
<circle cx="364.1" cy="342.4" r="3.85" fill="#ffc20e" stroke="#222" stroke-width="0.6"/>
<circle cx="364.1" cy="353.7" r="3.85" fill="#ffc20e" stroke="#222" stroke-width="0.6"/>
<circle cx="364.1" cy="366.2" r="3.85" fill="#ffc20e" stroke="#222" stroke-width="0.6"/>
<circle cx="364.1" cy="377.7" r="3.85" fill="#ffc20e" stroke="#222" stroke-width="0.6"/>
<circle cx="364.1" cy="407.3" r="3.85" fill="#ffc20e" stroke="#222" stroke-width="0.6"/>
<circle cx="364.1" cy="419.1" r="3.85" fill="#ffc20e" stroke="#222" stroke-width="0.6"/>
<circle cx="364.1" cy="430.8" r="3.85" fill="#ffc20e" stroke="#222" stroke-width="0.6"/>
<circle cx="364.1" cy="442.8" r="3.85" fill="#ffc20e" stroke="#222" stroke-width="0.6"/>
<circle cx="364.1" cy="454.3" r="3.85" fill="#ffc20e" stroke="#222" stroke-width="0.6"/>
<circle cx="391.5" cy="383.3" r="3.85" fill="#e07060" stroke="#222" stroke-width="0.6"/>
<circle cx="354.8" cy="395.4" r="3.85" fill="#1e88ff" stroke="#222" stroke-width="0.6"/>
<circle cx="336.6" cy="472.1" r="3.85" fill="#ffc20e" stroke="#222" stroke-width="0.6"/>
<circle cx="336.6" cy="484.4" r="3.85" fill="#ffc20e" stroke="#222" stroke-width="0.6"/>
<circle cx="336.6" cy="496" r="3.85" fill="#ffc20e" stroke="#222" stroke-width="0.6"/>
<circle cx="336.6" cy="508.1" r="3.85" fill="#ffc20e" stroke="#222" stroke-width="0.6"/>
<circle cx="364.2" cy="519.2" r="3.85" fill="#ffc20e" stroke="#222" stroke-width="0.6"/>
<circle cx="327.2" cy="531.6" r="3.85" fill="#ffc20e" stroke="#222" stroke-width="0.6"/>
<circle cx="336.6" cy="542.8" r="3.85" fill="#ffc20e" stroke="#222" stroke-width="0.6"/>
<circle cx="327.2" cy="554.7" r="3.85" fill="#ffc20e" stroke="#222" stroke-width="0.6"/>
<circle cx="327.2" cy="566.7" r="3.85" fill="#ffc20e" stroke="#222" stroke-width="0.6"/>
<circle cx="364.1" cy="324.4" r="3.85" fill="#d93a26" stroke="#222" stroke-width="0.6"/>
<circle cx="364.1" cy="336.5" r="3.85" fill="#ffc20e" stroke="#222" stroke-width="0.6"/>
<circle cx="364.1" cy="348.2" r="3.85" fill="#d93a26" stroke="#222" stroke-width="0.6"/>
<circle cx="364.1" cy="360.1" r="3.85" fill="#ffc20e" stroke="#222" stroke-width="0.6"/>
<circle cx="364.1" cy="371.8" r="3.85" fill="#ffc20e" stroke="#222" stroke-width="0.6"/>
<circle cx="364.1" cy="401.4" r="3.85" fill="#ffc20e" stroke="#222" stroke-width="0.6"/>
<circle cx="364.1" cy="413" r="3.85" fill="#ffc20e" stroke="#222" stroke-width="0.6"/>
<circle cx="364.1" cy="425" r="3.85" fill="#ffc20e" stroke="#222" stroke-width="0.6"/>
<circle cx="364.1" cy="436.6" r="3.85" fill="#ffc20e" stroke="#222" stroke-width="0.6"/>
<circle cx="364.1" cy="448.5" r="3.85" fill="#ffc20e" stroke="#222" stroke-width="0.6"/>
<circle cx="364.1" cy="460.5" r="3.85" fill="#d93a26" stroke="#222" stroke-width="0.6"/>
<circle cx="391.5" cy="389.6" r="3.85" fill="#e07060" stroke="#222" stroke-width="0.6"/>
<circle cx="354.8" cy="466.1" r="3.85" fill="#d93a26" stroke="#222" stroke-width="0.6"/>
<circle cx="336.6" cy="478.3" r="3.85" fill="#ffc20e" stroke="#222" stroke-width="0.6"/>
<circle cx="336.6" cy="490.2" r="3.85" fill="#ffc20e" stroke="#222" stroke-width="0.6"/>
<circle cx="336.6" cy="502" r="3.85" fill="#ffc20e" stroke="#222" stroke-width="0.6"/>
<circle cx="327.2" cy="513.3" r="3.85" fill="#e6c46a" stroke="#222" stroke-width="0.6"/>
<circle cx="327.2" cy="525.4" r="3.85" fill="#ffc20e" stroke="#222" stroke-width="0.6"/>
<circle cx="327.2" cy="537.4" r="3.85" fill="#ffc20e" stroke="#222" stroke-width="0.6"/>
<circle cx="364.2" cy="548.5" r="3.85" fill="#ffc20e" stroke="#222" stroke-width="0.6"/>
<circle cx="336.6" cy="560.6" r="3.85" fill="#ffc20e" stroke="#222" stroke-width="0.6"/>
<text transform="translate(410.1,342.3) rotate(90)" x="0" y="0" font-size="14.6" fill="#222" textLength="210" lengthAdjust="spacingAndGlyphs" >Coastal Kenya Africa, 2013 -2020</text>
<text x="286.9" y="510.5" font-size="6.6" fill="#333" textLength="13.3" lengthAdjust="spacingAndGlyphs" >0.86</text>
<text x="270" y="529.5" font-size="6.6" fill="#333" textLength="2.6" lengthAdjust="spacingAndGlyphs" >1</text>
<text x="268.2" y="563.8" font-size="6.6" fill="#333" textLength="13.7" lengthAdjust="spacingAndGlyphs" >0.84</text>
<line x1="266.4" y1="570.6" x2="403.3" y2="570.6" stroke="#a0a0a0" stroke-width="1"/>
<line x1="299.7" y1="570.6" x2="299.7" y2="572" stroke="#888" stroke-width="0.8"/>
<text transform="translate(302.8,592) rotate(-90)" x="0" y="0" font-size="9" fill="#606060" textLength="20" lengthAdjust="spacingAndGlyphs" >2010</text>
<line x1="345.7" y1="570.6" x2="345.7" y2="572" stroke="#888" stroke-width="0.8"/>
<text transform="translate(348.8,592) rotate(-90)" x="0" y="0" font-size="9" fill="#606060" textLength="20" lengthAdjust="spacingAndGlyphs" >2015</text>
<line x1="391.7" y1="570.6" x2="391.7" y2="572" stroke="#888" stroke-width="0.8"/>
<text transform="translate(394.8,592) rotate(-90)" x="0" y="0" font-size="9" fill="#606060" textLength="20" lengthAdjust="spacingAndGlyphs" >2020</text>
<text x="315.6" y="611.2" font-size="15" fill="#000" textLength="63" lengthAdjust="spacingAndGlyphs" >Time (yrs)</text>
<text x="518.2" y="309.1" font-size="11.2" fill="#111" textLength="154" lengthAdjust="spacingAndGlyphs" >Sequence Collection Location</text>
<text x="583.7" y="334.7" font-size="11.2" fill="#111" textLength="31.5" lengthAdjust="spacingAndGlyphs" >Kenya</text>
<text x="584.3" y="392.5" font-size="11.2" fill="#111" textLength="29.5" lengthAdjust="spacingAndGlyphs" >Africa</text>
<text x="585.8" y="469" font-size="11.2" fill="#111" textLength="41.3" lengthAdjust="spacingAndGlyphs" >External</text>
<circle cx="537.3" cy="347" r="4.2" fill="#d93a26"/>
<text x="549.2" y="350.4" font-size="9.42" fill="#111" >Coastal Kenya (Study)</text>
<circle cx="537.3" cy="357.8" r="4.2" fill="#ffc20e"/>
<text x="549.2" y="361.2" font-size="9.42" fill="#111" >Coastal Kenya (Non–Study)</text>
<circle cx="537.3" cy="368.5" r="4.2" fill="#1e88ff"/>
<text x="549.2" y="371.9" font-size="9.42" fill="#111" >Central Kenya (Non–Study)</text>
<circle cx="537.3" cy="405.2" r="4.2" fill="#6b8e3a"/>
<text x="549.2" y="408.6" font-size="9.42" fill="#111" >Central Africa</text>
<circle cx="537.3" cy="415.7" r="4.2" fill="#b02068"/>
<text x="549.2" y="419.1" font-size="9.42" fill="#111" >Eastern Africa</text>
<circle cx="537.3" cy="426.3" r="4.2" fill="#d2592a"/>
<text x="549.2" y="429.7" font-size="9.42" fill="#111" >Northern Africa</text>
<circle cx="537.3" cy="436.8" r="4.2" fill="#0000cc"/>
<text x="549.2" y="440.2" font-size="9.42" fill="#111" >Southern Africa</text>
<circle cx="537.3" cy="447.6" r="4.2" fill="#5c2d86"/>
<text x="549.2" y="451.0" font-size="9.42" fill="#111" >Western Africa</text>
<circle cx="537.3" cy="483" r="4.2" fill="#aaaaaa"/>
<text x="549.2" y="486.4" font-size="9.42" fill="#111" >Australia</text>
<circle cx="537.3" cy="493.8" r="4.2" fill="#dbe9e9"/>
<text x="549.2" y="497.2" font-size="9.42" fill="#111" >Central America Caribbean</text>
<circle cx="537.3" cy="504.5" r="4.2" fill="#5fd068"/>
<text x="549.2" y="507.9" font-size="9.42" fill="#111" >Central South East Asia</text>
<circle cx="537.3" cy="515" r="4.2" fill="#8b6e4e"/>
<text x="549.2" y="518.4" font-size="9.42" fill="#111" >East Asia</text>
<circle cx="537.3" cy="525.8" r="4.2" fill="#e6c46a"/>
<text x="549.2" y="529.1" font-size="9.42" fill="#111" >Europe</text>
<circle cx="537.3" cy="536.5" r="4.2" fill="#5aafe0"/>
<text x="549.2" y="539.9" font-size="9.42" fill="#111" >Lower South East Asia</text>
<circle cx="537.3" cy="547" r="4.2" fill="#c35a2e"/>
<text x="549.2" y="550.4" font-size="9.42" fill="#111" >North America</text>
<circle cx="537.3" cy="557.6" r="4.2" fill="#dd99dd"/>
<text x="549.2" y="561.0" font-size="9.42" fill="#111" >Oceania</text>
<circle cx="537.3" cy="568.4" r="4.2" fill="#ff0000"/>
<text x="549.2" y="571.8" font-size="9.42" fill="#111" >South America</text>
<circle cx="537.3" cy="579" r="4.2" fill="#99cc00"/>
<text x="549.2" y="582.4" font-size="9.42" fill="#111" >Upper South East Asia</text>
<circle cx="537.3" cy="589.6" r="4.2" fill="#20aaa6"/>
<text x="549.2" y="593.0" font-size="9.42" fill="#111" >West Asia</text>
<g stroke="#444" fill="none">
<path d="M0.7 0V619" stroke-width="1.6"/>
<path d="M0 0.5H685" stroke-width="1.2"/>
<path d="M684.3 0V619" stroke-width="1.3"/>
<path d="M0 618.4H685" stroke-width="1.3"/>
<path d="M0 284.5H685" stroke-width="1.1"/>
<path d="M252.8 284.5V619" stroke-width="1.2"/>
<path d="M478.5 284.5V619" stroke-width="1.1"/>
</g>
</svg>
</body></html>
